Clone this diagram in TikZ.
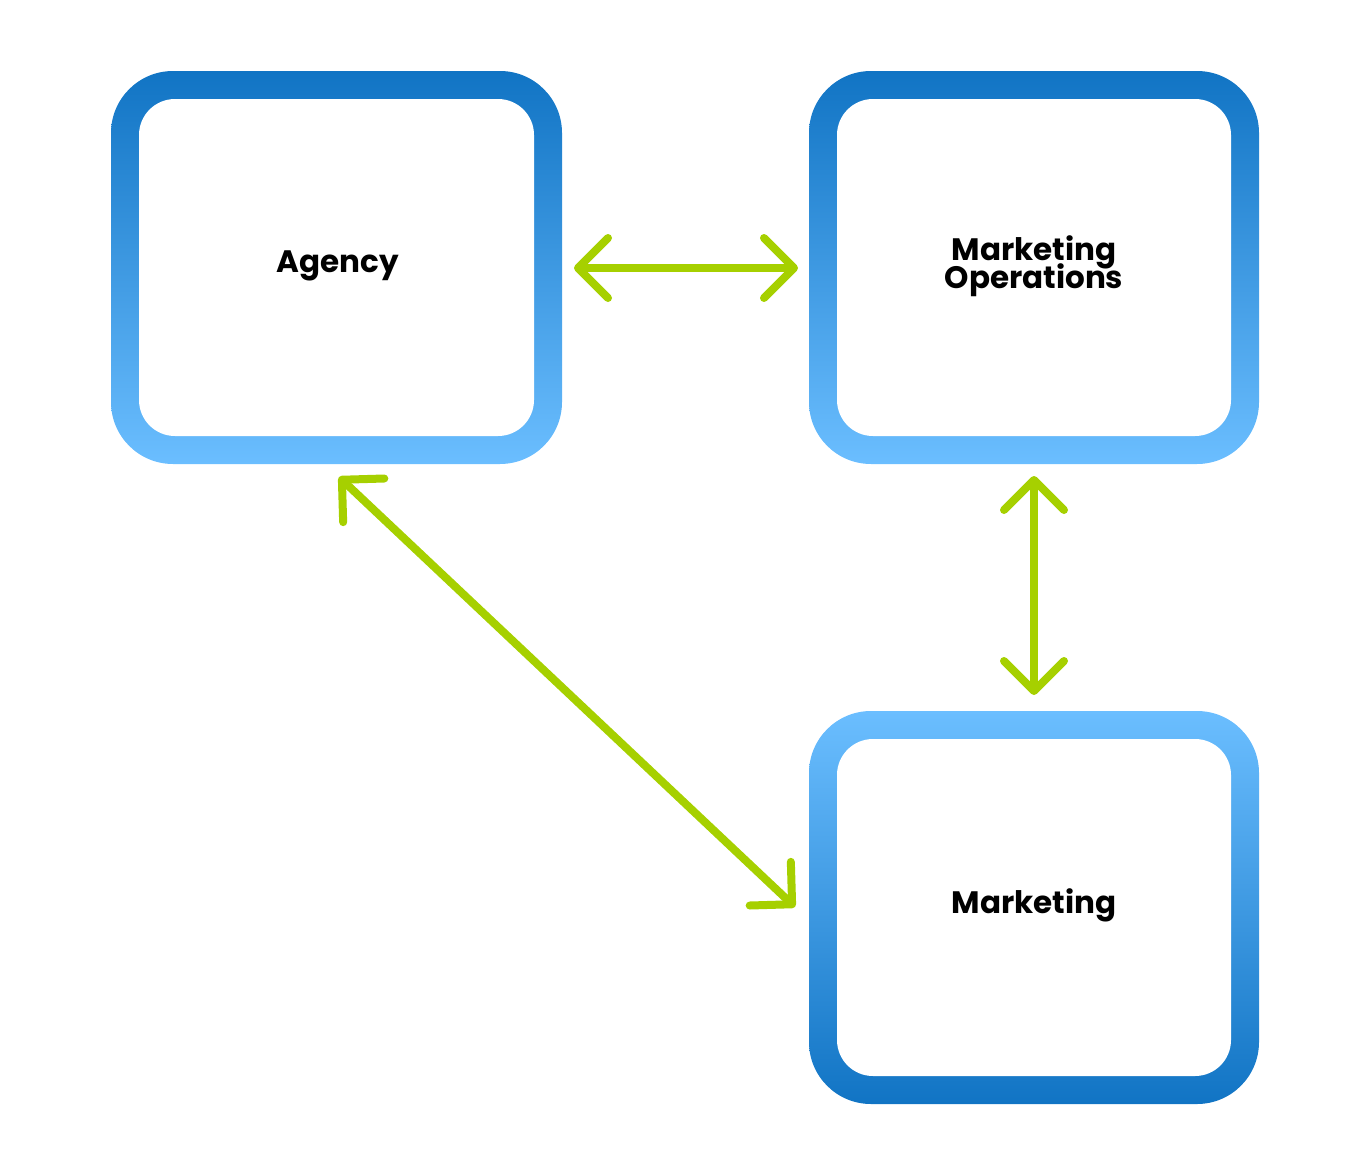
\documentclass[tikz,border=0pt]{standalone}
\usepackage{fontspec}
\setmainfont{Poppins}
\usetikzlibrary{arrows.meta}
\definecolor{bdark}{HTML}{1174C4}
\definecolor{blight}{HTML}{6BBEFF}
\definecolor{lime}{HTML}{A6D000}
\tikzset{
  lbl/.style={font=\fontsize{31}{36}\selectfont\bfseries, align=center, text=black},
  conn/.style={draw=lime, line width=8pt, line cap=round,
    {Straight Barb[length=30pt,width=60pt,round]}-{Straight Barb[length=30pt,width=60pt,round]}}
}
\begin{document}
\begin{tikzpicture}[x=1pt,y=-1pt]
\useasboundingbox (0,0) rectangle (1371,1175);
% boxes
\shade[top color=bdark,bottom color=blight,rounded corners=62] (111,71) rectangle (562,464);
\fill[white,rounded corners=36] (139,99) rectangle (534,436);
\shade[top color=bdark,bottom color=blight,rounded corners=62] (809,71) rectangle (1259,464);
\fill[white,rounded corners=36] (837,99) rectangle (1231,436);
\shade[top color=blight,bottom color=bdark,rounded corners=62] (809,711) rectangle (1259,1104);
\fill[white,rounded corners=36] (837,739) rectangle (1231,1076);
\node[lbl] (ag) at (338,266) {Agency};
\node[lbl] (mo) at (1034,266) {Marketing\\[-8pt]Operations};
\node[lbl] (mk) at (1034,905) {Marketing};
\coordinate (a1) at (574,268);
\coordinate (a2) at (798,268);
\coordinate (v1) at (1034,476);
\coordinate (v2) at (1034,695);
\coordinate (d1) at (339,477);
\coordinate (d2) at (795,907);
\draw[conn] (a1) -- (a2);
\draw[conn] (v1) -- (v2);
\draw[conn] (d1) -- (d2);
\end{tikzpicture}
\end{document}
